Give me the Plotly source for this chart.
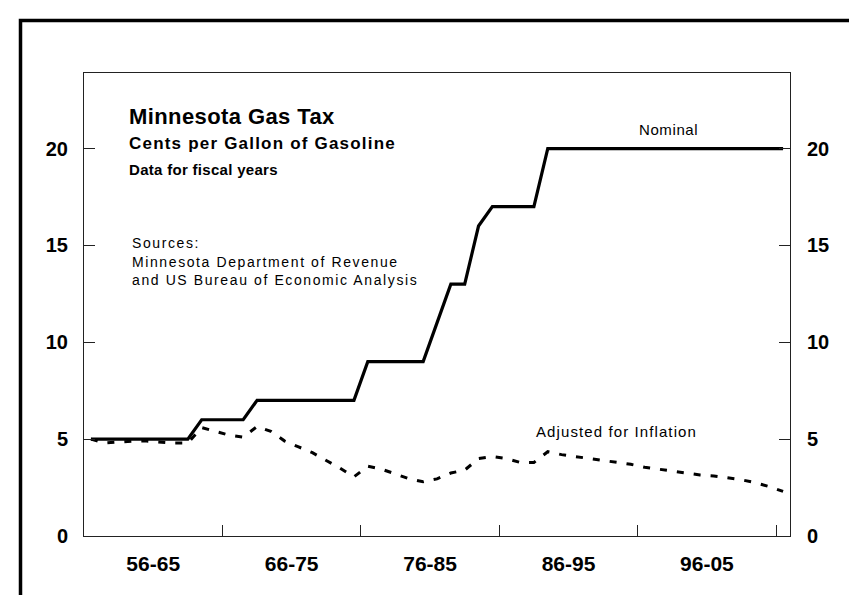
import plotly.graph_objects as go

years = list(range(1956, 2007))
nominal = [5, 5, 5, 5, 5, 5, 5, 5,            # 1956-1963
           6, 6, 6, 6,                        # 1964-1967
           7, 7, 7, 7, 7, 7, 7, 7,            # 1968-1975
           9, 9, 9, 9, 9,                     # 1976-1980
           11, 13, 13, 16, 17, 17, 17, 17,    # 1981-1988
           20, 20, 20, 20, 20, 20, 20, 20, 20, 20, 20, 20, 20, 20, 20, 20, 20, 20]  # 1989-2006
adjusted = [5.0, 4.8, 4.85, 4.9, 4.9, 4.85, 4.8, 4.8,
            5.6, 5.4, 5.2, 5.1,
            5.65, 5.4, 4.9, 4.6, 4.3, 3.9, 3.5, 3.05,
            3.6, 3.45, 3.2, 2.95, 2.8,
            2.95, 3.25, 3.4, 4.0, 4.1, 4.0, 3.8, 3.8,
            4.35, 4.2, 4.1, 4.0, 3.9, 3.8, 3.7, 3.55, 3.45, 3.35, 3.25, 3.15, 3.1, 3.0, 2.9, 2.75, 2.55, 2.3]

decade_labels = ["56-65", "66-75", "76-85", "86-95", "96-05"]
decade_centers = [1960.5, 1970.5, 1980.5, 1990.5, 2000.5]
decade_bounds = [1965.5, 1975.5, 1985.5, 1995.5, 2005.5]
y_ticks = [0, 5, 10, 15, 20]

FONT = "Liberation Sans, Arial, sans-serif"
L, R, T, B = 76, 75, 65, 67
W, H = 857, 595
PW, PH = W - L - R, H - T - B

fig = go.Figure()
fig.add_trace(go.Scatter(x=years, y=nominal, mode="lines", name="Nominal",
                         line=dict(color="black", width=3.2)))
fig.add_trace(go.Scatter(x=years, y=adjusted, mode="lines", name="Adjusted for Inflation",
                         line=dict(color="black", width=3, dash="7px,10px"), yaxis="y2"))

yr = [0, 23.9]
tickfont = dict(size=20, family=FONT, weight="bold", color="black")
fig.update_layout(
    width=W, height=H,
    margin=dict(l=L, r=R, t=T, b=B),
    paper_bgcolor="white", plot_bgcolor="white",
    showlegend=False,
    font=dict(family=FONT, color="black"),
    xaxis=dict(range=[1955.5, 2006.5], tickvals=decade_centers, ticktext=decade_labels,
               ticks="", showgrid=False, zeroline=False,
               showline=True, mirror=True, linecolor="#222", linewidth=1,
               tickfont=dict(size=21, family=FONT, weight="bold", color="black"),
               ticklabelstandoff=9,
               minor=dict(tickvals=decade_bounds, ticks="inside", ticklen=11,
                          tickcolor="#222", tickwidth=1, showgrid=False)),
    yaxis=dict(range=yr, tickvals=y_ticks, ticks="inside", ticklen=11, tickcolor="#222",
               showgrid=False, zeroline=False, showline=True, mirror=True,
               linecolor="#222", linewidth=1,
               tickfont=tickfont, ticklabelstandoff=11),
    yaxis2=dict(range=yr, tickvals=y_ticks, ticks="inside", ticklen=11, tickcolor="#222",
                overlaying="y", side="right", showgrid=False, zeroline=False,
                showline=True, linecolor="#222", linewidth=1,
                tickfont=tickfont, ticklabelstandoff=12),
)

def px_x(px):
    return (px - L) / PW

def px_y(py):
    return (H - B - py) / PH

# outer frame
fig.add_shape(type="rect", xref="paper", yref="paper",
              x0=px_x(12.5), x1=px_x(853), y0=px_y(620), y1=px_y(12.5),
              line=dict(color="black", width=3.5), layer="below")

texts = [
    ("Minnesota Gas Tax", 119, 108, 22, "bold", 0.4, "left"),
    ("Cents per Gallon of Gasoline", 119, 135, 17, "bold", 1.2, "left"),
    ("Data for fiscal years", 119, 161, 15, "bold", 0.3, "left"),
    ("Sources:", 121.5, 235, 14, "normal", 1.6, "left"),
    ("Minnesota Department of Revenue", 121.5, 254, 14, "normal", 1.6, "left"),
    ("and US Bureau of Economic Analysis", 121.5, 272, 14, "normal", 1.6, "left"),
    ("Nominal", 660, 121, 15, "normal", 0.6, "center"),
    ("Adjusted for Inflation", 525.5, 423, 15, "normal", 1.1, "left"),
]
for t, x, y, s, w, ls, anc in texts:
    fig.add_annotation(text=f'<span style="letter-spacing:{ls}px">{t}</span>',
                       xref="paper", yref="paper", x=px_x(x), y=px_y(y),
                       xanchor=anc, yanchor="middle", showarrow=False,
                       font=dict(size=s, family=FONT, color="black", weight=w))

fig.write_html("out.html")
